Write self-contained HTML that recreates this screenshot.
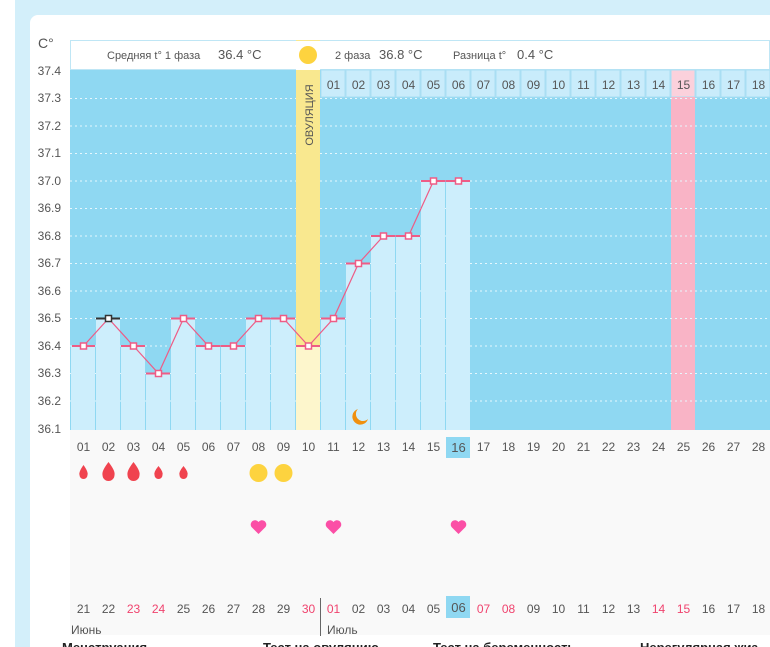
<!DOCTYPE html>
<html><head><meta charset="utf-8"><style>
html,body{margin:0;padding:0;width:770px;height:647px;overflow:hidden;background:#fff}
svg{display:block}
text{font-family:"Liberation Sans",sans-serif}
</style></head><body>
<svg width="770" height="647" viewBox="0 0 770 647" xmlns="http://www.w3.org/2000/svg">
<rect x="15" y="0" width="755" height="647" fill="#d3effa"/>
<rect x="30" y="15" width="760" height="650" rx="8" fill="#fff"/>
<rect x="70" y="430" width="700" height="205" fill="#f9f9f9"/>
<rect x="70" y="70" width="700" height="360" fill="#8fd8f2"/>
<rect x="70.5" y="40.5" width="699" height="29" fill="#fff" stroke="#bfe6f5"/>
<text x="107" y="59" font-size="11" fill="#555">Средняя t° 1 фаза</text>
<text x="218" y="59" font-size="13" fill="#555">36.4 °C</text>
<text x="335" y="59" font-size="11" fill="#555">2 фаза</text>
<text x="379" y="59" font-size="13" fill="#555">36.8 °C</text>
<text x="453" y="59" font-size="11" fill="#555">Разница t°</text>
<text x="517" y="59" font-size="13" fill="#555">0.4 °C</text>
<g fill="#c9ecfb" stroke="#a9def3">
<rect x="321" y="70" width="24" height="27"/><rect x="346" y="70" width="24" height="27"/><rect x="371" y="70" width="24" height="27"/><rect x="396" y="70" width="24" height="27"/><rect x="421" y="70" width="24" height="27"/><rect x="446" y="70" width="24" height="27"/><rect x="471" y="70" width="24" height="27"/><rect x="496" y="70" width="24" height="27"/><rect x="521" y="70" width="24" height="27"/><rect x="546" y="70" width="24" height="27"/><rect x="571" y="70" width="24" height="27"/><rect x="596" y="70" width="24" height="27"/><rect x="621" y="70" width="24" height="27"/><rect x="646" y="70" width="24" height="27"/><rect x="671" y="70" width="24" height="27" fill="#fbd1dc"/><rect x="696" y="70" width="24" height="27"/><rect x="721" y="70" width="24" height="27"/><rect x="746" y="70" width="24" height="27"/>
</g>
<rect x="671" y="97" width="24" height="333" fill="#f9b4c6"/>
<g font-size="12" fill="#555" text-anchor="middle">
<text x="333.5" y="89">01</text><text x="358.5" y="89">02</text><text x="383.5" y="89">03</text><text x="408.5" y="89">04</text><text x="433.5" y="89">05</text><text x="458.5" y="89">06</text><text x="483.5" y="89">07</text><text x="508.5" y="89">08</text><text x="533.5" y="89">09</text><text x="558.5" y="89">10</text><text x="583.5" y="89">11</text><text x="608.5" y="89">12</text><text x="633.5" y="89">13</text><text x="658.5" y="89">14</text><text x="683.5" y="89">15</text><text x="708.5" y="89">16</text><text x="733.5" y="89">17</text><text x="758.5" y="89">18</text>
</g>
<g stroke="#e6f7fd" stroke-dasharray="2,3" stroke-width="1">
<line x1="70" y1="98.5" x2="770" y2="98.5"/><line x1="70" y1="126" x2="770" y2="126"/><line x1="70" y1="153.5" x2="770" y2="153.5"/><line x1="70" y1="181" x2="770" y2="181"/><line x1="70" y1="208.5" x2="770" y2="208.5"/><line x1="70" y1="236" x2="770" y2="236"/><line x1="70" y1="263.5" x2="770" y2="263.5"/><line x1="70" y1="291" x2="770" y2="291"/><line x1="70" y1="318.5" x2="770" y2="318.5"/><line x1="70" y1="346" x2="770" y2="346"/><line x1="70" y1="373.5" x2="770" y2="373.5"/><line x1="70" y1="401" x2="770" y2="401"/>
</g>
<rect x="296" y="40" width="24" height="390" fill="#f9e88f"/>
<rect x="296" y="41" width="24" height="29" fill="#fff"/>
<circle cx="308" cy="55" r="9" fill="#fdd33f"/>
<rect x="296" y="346" width="24" height="84" fill="#fdf6cc"/>
<text transform="translate(313,115) rotate(-90)" font-size="11" fill="#555" text-anchor="middle">ОВУЛЯЦИЯ</text>
<g fill="#cdeefc">
<rect x="71" y="346" width="24" height="84"/><rect x="96" y="318.5" width="24" height="111.5"/><rect x="121" y="346" width="24" height="84"/><rect x="146" y="373.5" width="24" height="56.5"/><rect x="171" y="318.5" width="24" height="111.5"/><rect x="196" y="346" width="24" height="84"/><rect x="221" y="346" width="24" height="84"/><rect x="246" y="318.5" width="24" height="111.5"/><rect x="271" y="318.5" width="24" height="111.5"/><rect x="321" y="318.5" width="24" height="111.5"/><rect x="346" y="263.5" width="24" height="166.5"/><rect x="371" y="236" width="24" height="194"/><rect x="396" y="236" width="24" height="194"/><rect x="421" y="181" width="24" height="249"/><rect x="446" y="181" width="24" height="249"/>
</g>
<text x="38" y="48" font-size="14" fill="#555">C°</text>
<g font-size="12" fill="#555" text-anchor="end">
<text x="61" y="75">37.4</text><text x="61" y="102">37.3</text><text x="61" y="130">37.2</text><text x="61" y="157">37.1</text><text x="61" y="185">37.0</text><text x="61" y="212">36.9</text><text x="61" y="240">36.8</text><text x="61" y="267">36.7</text><text x="61" y="295">36.6</text><text x="61" y="322">36.5</text><text x="61" y="350">36.4</text><text x="61" y="377">36.3</text><text x="61" y="405">36.2</text><text x="61" y="433">36.1</text>
</g>
<g stroke="#ee5c86" stroke-width="2">
<line x1="72" y1="346" x2="95" y2="346"/><line x1="96" y1="318.5" x2="120" y2="318.5" stroke="#333"/><line x1="121" y1="346" x2="145" y2="346"/><line x1="146" y1="373.5" x2="170" y2="373.5"/><line x1="171" y1="318.5" x2="195" y2="318.5"/><line x1="196" y1="346" x2="220" y2="346"/><line x1="221" y1="346" x2="245" y2="346"/><line x1="246" y1="318.5" x2="270" y2="318.5"/><line x1="271" y1="318.5" x2="295" y2="318.5"/><line x1="296" y1="346" x2="320" y2="346"/><line x1="321" y1="318.5" x2="345" y2="318.5"/><line x1="346" y1="263.5" x2="370" y2="263.5"/><line x1="371" y1="236" x2="395" y2="236"/><line x1="396" y1="236" x2="420" y2="236"/><line x1="421" y1="181" x2="445" y2="181"/><line x1="446" y1="181" x2="470" y2="181"/>
</g>
<polyline fill="none" stroke="#ee5c86" stroke-width="1.2" points="83.5,346 108.5,318.5 133.5,346 158.5,373.5 183.5,318.5 208.5,346 233.5,346 258.5,318.5 283.5,318.5 308.5,346 333.5,318.5 358.5,263.5 383.5,236 408.5,236 433.5,181 458.5,181"/>
<g fill="#fff" stroke="#ee5c86" stroke-width="1.5">
<rect x="80.5" y="343" width="6" height="6"/><rect x="105.5" y="315.5" width="6" height="6" stroke="#333"/><rect x="130.5" y="343" width="6" height="6"/><rect x="155.5" y="370.5" width="6" height="6"/><rect x="180.5" y="315.5" width="6" height="6"/><rect x="205.5" y="343" width="6" height="6"/><rect x="230.5" y="343" width="6" height="6"/><rect x="255.5" y="315.5" width="6" height="6"/><rect x="280.5" y="315.5" width="6" height="6"/><rect x="305.5" y="343" width="6" height="6"/><rect x="330.5" y="315.5" width="6" height="6"/><rect x="355.5" y="260.5" width="6" height="6"/><rect x="380.5" y="233" width="6" height="6"/><rect x="405.5" y="233" width="6" height="6"/><rect x="430.5" y="178" width="6" height="6"/><rect x="455.5" y="178" width="6" height="6"/>
</g>
<path d="M358,409 a8,8 0 1 0 10,10 a7,7 0 0 1 -10,-10z" fill="#f0900f"/>
<rect x="446" y="437" width="24" height="21" fill="#8fd8f2"/>
<g font-size="12" fill="#555" text-anchor="middle">
<text x="83.5" y="451">01</text><text x="108.5" y="451">02</text><text x="133.5" y="451">03</text><text x="158.5" y="451">04</text><text x="183.5" y="451">05</text><text x="208.5" y="451">06</text><text x="233.5" y="451">07</text><text x="258.5" y="451">08</text><text x="283.5" y="451">09</text><text x="308.5" y="451">10</text><text x="333.5" y="451">11</text><text x="358.5" y="451">12</text><text x="383.5" y="451">13</text><text x="408.5" y="451">14</text><text x="433.5" y="451">15</text><text x="458.5" y="452" font-size="13">16</text><text x="483.5" y="451">17</text><text x="508.5" y="451">18</text><text x="533.5" y="451">19</text><text x="558.5" y="451">20</text><text x="583.5" y="451">21</text><text x="608.5" y="451">22</text><text x="633.5" y="451">23</text><text x="658.5" y="451">24</text><text x="683.5" y="451">25</text><text x="708.5" y="451">26</text><text x="733.5" y="451">27</text><text x="758.5" y="451">28</text>
</g>
<g fill="#f0434f">
<path d="M83.5,465 q5,7 4,10 a4,4 0 0 1 -8,0 q-1,-3 4,-10z"/>
<path d="M108.5,462 q7,9 6,13 a6,6 0 0 1 -12,0 q-1,-4 6,-13z"/>
<path d="M133.5,462 q7,9 6,13 a6,6 0 0 1 -12,0 q-1,-4 6,-13z"/>
<path d="M158.5,466 q5,6 4,9 a4,4 0 0 1 -8,0 q-1,-3 4,-9z"/>
<path d="M183.5,466 q5,6 4,9 a4,4 0 0 1 -8,0 q-1,-3 4,-9z"/>
</g>
<circle cx="258.5" cy="473" r="9" fill="#fdd33f"/><circle cx="283.5" cy="473" r="9" fill="#fdd33f"/>
<g fill="#fb4fa6">
<path d="M258.5,534 l-7,-7 a4,4 0 0 1 7,-5 a4,4 0 0 1 7,5z"/>
<path d="M333.5,534 l-7,-7 a4,4 0 0 1 7,-5 a4,4 0 0 1 7,5z"/>
<path d="M458.5,534 l-7,-7 a4,4 0 0 1 7,-5 a4,4 0 0 1 7,5z"/>
</g>
<rect x="446" y="596" width="24" height="22" fill="#8fd8f2"/>
<line x1="320.5" y1="598" x2="320.5" y2="636" stroke="#666"/>
<g font-size="12" fill="#555" text-anchor="middle">
<text x="83.5" y="613">21</text><text x="108.5" y="613">22</text><text x="133.5" y="613" fill="#f0436e">23</text><text x="158.5" y="613" fill="#f0436e">24</text><text x="183.5" y="613">25</text><text x="208.5" y="613">26</text><text x="233.5" y="613">27</text><text x="258.5" y="613">28</text><text x="283.5" y="613">29</text><text x="308.5" y="613" fill="#f0436e">30</text><text x="333.5" y="613" fill="#f0436e">01</text><text x="358.5" y="613">02</text><text x="383.5" y="613">03</text><text x="408.5" y="613">04</text><text x="433.5" y="613">05</text><text x="458.5" y="612" font-size="13">06</text><text x="483.5" y="613" fill="#f0436e">07</text><text x="508.5" y="613" fill="#f0436e">08</text><text x="533.5" y="613">09</text><text x="558.5" y="613">10</text><text x="583.5" y="613">11</text><text x="608.5" y="613">12</text><text x="633.5" y="613">13</text><text x="658.5" y="613" fill="#f0436e">14</text><text x="683.5" y="613" fill="#f0436e">15</text><text x="708.5" y="613">16</text><text x="733.5" y="613">17</text><text x="758.5" y="613">18</text>
</g>
<text x="71" y="634" font-size="12" fill="#555">Июнь</text>
<text x="327" y="634" font-size="12" fill="#555">Июль</text>
<g font-size="13" font-weight="bold" fill="#222">
<text x="62" y="652">Менструация</text><text x="263" y="652">Тест на овуляцию</text><text x="433" y="652">Тест на беременность</text><text x="640" y="652">Нерегулярная жиз</text>
</g>
</svg>
</body></html>
